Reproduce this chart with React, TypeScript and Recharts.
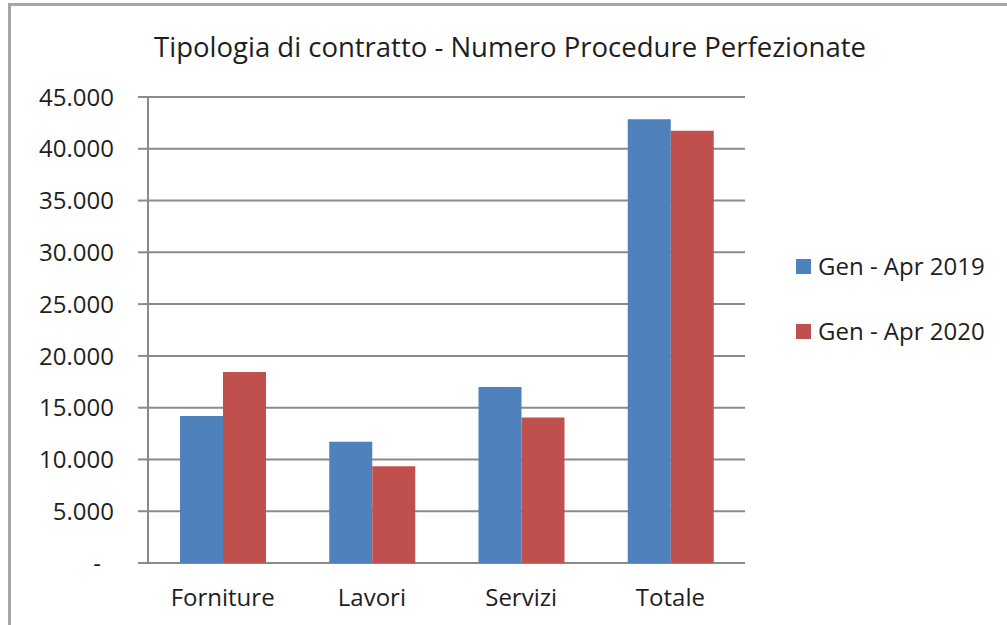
import React from 'react';
import { BarChart, Bar, XAxis, YAxis, CartesianGrid } from 'recharts';

const categories = ['Forniture', 'Lavori', 'Servizi', 'Totale'];
const serie2019 = [14200, 11700, 17000, 42850];
const serie2020 = [18450, 9350, 14050, 41750];
const yTicks = [0, 5000, 10000, 15000, 20000, 25000, 30000, 35000, 40000, 45000];
const boundaryTicks = [0, 1, 2, 3, 4];
const seriesNames = ['Gen - Apr 2019', 'Gen - Apr 2020'];
const title = 'Tipologia di contratto - Numero Procedure Perfezionate';

const data = categories.map((c, i) => ({ name: c, a: serie2019[i], b: serie2020[i] }));

const FONT = '"Open Sans", sans-serif';
const GRID = '#8a8a8a';
const TEXT = '#1e1e1e';
const BLUE = '#4F81BD';
const RED = '#C0504D';

const fmt = (n: number) => (n === 0 ? '-' : String(n).replace(/\B(?=(\d{3})+(?!\d))/g, '.'));

const YTick = (props: any) => {
  const { x, y, payload } = props;
  const v = payload.value;
  return (
    <text x={v === 0 ? x - 13 : x} y={y} dy="0.36em" textAnchor="end" fontFamily={FONT} fontSize={24} fill={TEXT}>
      {fmt(v)}
    </text>
  );
};

const XTick = (props: any) => {
  const { x, y, payload } = props;
  return (
    <text x={x} y={y} dy="0.36em" textAnchor="middle" fontFamily={FONT} fontSize={24} fill={TEXT}>
      {payload.value}
    </text>
  );
};

const LegendBox = () => (
  <div style={{ position: 'absolute', left: 796, top: 249, width: 220, fontFamily: FONT, fontSize: 24, color: TEXT }}>
    {seriesNames.map((n, i) => (
      <div key={n} style={{ display: 'flex', alignItems: 'center', height: 34, marginBottom: i === 0 ? 31 : 0 }}>
        <div style={{ width: 15, height: 15, background: i === 0 ? BLUE : RED, marginRight: 7 }} />
        <span style={{ lineHeight: '34px', whiteSpace: 'nowrap' }}>{n}</span>
      </div>
    ))}
  </div>
);

export default function App() {
  return (
    <div style={{ position: 'absolute', left: 0, top: 0, width: 1007, height: 625, background: '#fff', overflow: 'hidden' }}>
      <div style={{ position: 'absolute', left: 8, top: 3, width: 1010, height: 630, borderTop: '3px solid #a6a6a6', borderLeft: '3px solid #a6a6a6' }} />
      <div style={{ position: 'absolute', left: 0, width: 1020, top: 27, textAlign: 'center', fontFamily: FONT, fontSize: 27.5, color: TEXT, lineHeight: '40px', whiteSpace: 'nowrap' }}>
        {title}
      </div>
      <div style={{ position: 'absolute', left: 0, top: 0 }}>
        <BarChart width={1007} height={625} data={data} margin={{ top: 97, right: 262, bottom: 0, left: 0 }} barCategoryGap={32} barGap={0}>
          <CartesianGrid xAxisId="a" vertical={false} stroke={GRID} strokeWidth={2} />
          <XAxis xAxisId="b" type="number" domain={[0, 4]} ticks={boundaryTicks} tick={false} tickSize={7} tickLine={{ stroke: GRID, strokeWidth: 2 }} axisLine={{ stroke: GRID, strokeWidth: 2 }} height={0} />
          <XAxis xAxisId="a" dataKey="name" tick={<XTick />} tickLine={false} axisLine={false} tickSize={0} tickMargin={34} height={62} interval={0} />
          <YAxis domain={[0, 45000]} ticks={yTicks} tick={<YTick />} tickSize={10} tickMargin={24} tickLine={{ stroke: GRID, strokeWidth: 2 }} axisLine={{ stroke: GRID, strokeWidth: 2 }} width={148} interval={0} />
          <Bar xAxisId="a" dataKey="a" name={seriesNames[0]} fill={BLUE} isAnimationActive={false} />
          <Bar xAxisId="a" dataKey="b" name={seriesNames[1]} fill={RED} isAnimationActive={false} />
        </BarChart>
      </div>
      <LegendBox />
    </div>
  );
}
